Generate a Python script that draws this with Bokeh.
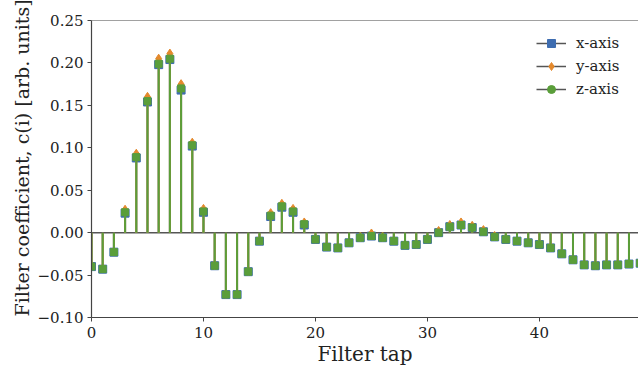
from bokeh.plotting import figure
from bokeh.models import Range1d, FixedTicker, CustomJSTickFormatter, Span, Legend, LegendItem, Title
from bokeh.embed import file_html
from bokeh.resources import INLINE

taps = list(range(50))

coef_z = [-0.040, -0.043, -0.023, 0.024, 0.089, 0.155, 0.199, 0.205, 0.170, 0.103,
          0.025, -0.039, -0.073, -0.073, -0.046, -0.010, 0.020, 0.031, 0.025, 0.010,
          -0.008, -0.017, -0.018, -0.012, -0.006, -0.004, -0.006, -0.010, -0.015, -0.014,
          -0.008, 0.000, 0.007, 0.009, 0.006, 0.001, -0.005, -0.008, -0.010, -0.012,
          -0.014, -0.018, -0.025, -0.032, -0.038, -0.039, -0.038, -0.038, -0.037, -0.036]
coef_x = [-0.040, -0.043, -0.023, 0.023, 0.088, 0.154, 0.198, 0.204, 0.168, 0.102,
          0.024, -0.039, -0.073, -0.073, -0.046, -0.010, 0.019, 0.030, 0.024, 0.009,
          -0.008, -0.017, -0.018, -0.012, -0.006, -0.004, -0.006, -0.010, -0.015, -0.014,
          -0.008, 0.000, 0.007, 0.009, 0.006, 0.001, -0.005, -0.008, -0.010, -0.012,
          -0.014, -0.018, -0.025, -0.032, -0.038, -0.039, -0.038, -0.038, -0.037, -0.036]
coef_y = [-0.039, -0.042, -0.022, 0.027, 0.093, 0.160, 0.205, 0.211, 0.175, 0.106,
          0.028, -0.038, -0.072, -0.072, -0.045, -0.009, 0.023, 0.034, 0.028, 0.012,
          -0.007, -0.016, -0.017, -0.011, -0.005, -0.001, -0.005, -0.009, -0.014, -0.013,
          -0.007, 0.002, 0.009, 0.012, 0.008, 0.003, -0.004, -0.007, -0.009, -0.011,
          -0.013, -0.017, -0.024, -0.031, -0.037, -0.038, -0.037, -0.037, -0.036, -0.035]

labels = ["x-axis", "y-axis", "z-axis"]
x_ticks = [0, 10, 20, 30, 40]
y_ticks = [-0.10, -0.05, 0.0, 0.05, 0.10, 0.15, 0.20, 0.25]

BLUE = "#3e6db0"
ORANGE = "#e4892c"
GREEN = "#5a9e3a"
SPINE = "#444444"
SERIF = "DejaVu Serif"

p = figure(width=638, height=368, output_backend="svg", toolbar_location=None,
           x_range=Range1d(0, 48.85), y_range=Range1d(-0.10, 0.25),
           min_border_left=91, min_border_top=20, min_border_right=0, min_border_bottom=0)
p.outline_line_color = None
p.grid.visible = False
p.background_fill_color = "white"

zeros = [0] * len(taps)

# stems and markers
p.segment(x0=taps, y0=zeros, x1=taps, y1=coef_x, line_color=BLUE, line_width=2)
p.scatter(taps, coef_x, marker="square", size=8, fill_color=BLUE, line_color=BLUE)
p.segment(x0=taps, y0=zeros, x1=taps, y1=coef_y, line_color=ORANGE, line_width=2)
p.scatter(taps, coef_y, marker="diamond", size=9, fill_color=ORANGE, line_color=ORANGE)
p.segment(x0=taps, y0=zeros, x1=taps, y1=coef_z, line_color=GREEN, line_width=2)
p.scatter(taps, coef_z, marker="square", size=7, fill_color=GREEN, line_color=GREEN)

# baseline and top spine
p.add_layout(Span(location=0, dimension="width", line_color="#555555", line_width=1.5, level="underlay"))
p.add_layout(Span(location=0.25, dimension="width", line_color=SPINE, line_width=1.2))

# legend proxies (hidden renderers, shown only in legend)
items = []
for lab, col, mk, vals in zip(labels, [BLUE, ORANGE, GREEN], ["square", "diamond", "circle"],
                              [coef_x, coef_y, coef_z]):
    base = p.line(taps, zeros, line_color="#555555", line_width=1.5, visible=False)
    mark = p.scatter(taps, vals, marker=mk, size=6, fill_color=col, line_color=col, visible=False)
    items.append(LegendItem(label=lab, renderers=[base, mark], index=0))
legend = Legend(items=items, location=(445, 218), border_line_color=None,
                background_fill_alpha=0, label_text_font=SERIF, label_text_font_size="15px",
                glyph_width=30, glyph_height=20, label_standoff=10, spacing=3,
                padding=6, margin=0, label_text_color="#222222")
p.add_layout(legend)

# axes
for ax in (p.xaxis[0], p.yaxis[0]):
    ax.axis_line_color = SPINE
    ax.axis_line_width = 1.2
    ax.major_tick_line_color = SPINE
    ax.major_tick_in = 0
    ax.major_tick_out = 4
    ax.minor_tick_line_color = None
    ax.major_label_text_font = SERIF
    ax.major_label_text_font_size = "15px"
    ax.major_label_text_color = "#222222"
    ax.axis_label_text_font = SERIF
    ax.axis_label_text_font_size = "20px"
    ax.axis_label_text_font_style = "normal"
    ax.axis_label_text_color = "#222222"

p.xaxis.ticker = FixedTicker(ticks=x_ticks)
p.yaxis.ticker = FixedTicker(ticks=y_ticks)
p.yaxis.formatter = CustomJSTickFormatter(code="return (tick < -1e-9 ? '\u2212' : '') + Math.abs(tick).toFixed(2);")
p.xaxis.axis_label = "Filter tap"
p.xaxis.axis_label_standoff = 1
p.xaxis.major_label_standoff = 5
p.yaxis.major_label_standoff = 4

ylab = Title(text="Filter coefficient, c(i) [arb. units]", align="left", offset=1,
             text_font=SERIF, text_font_size="19px", text_font_style="normal",
             text_color="#222222", standoff=4)
p.add_layout(ylab, "left")

open("out.html", "w").write(file_html(p, INLINE))
